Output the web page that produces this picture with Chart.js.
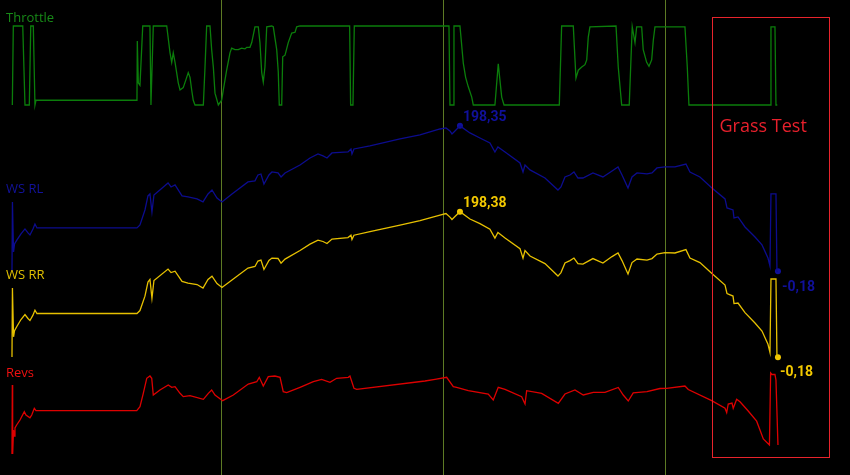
<!DOCTYPE html>
<html>
<head>
<meta charset="utf-8">
<title>Grass Test</title>
<script src="https://cdn.jsdelivr.net/npm/chart.js@4.4.0/dist/chart.umd.min.js"></script>
<style>
  html, body { margin: 0; padding: 0; background: #000; }
  #wrap { width: 850px; height: 475px; }
</style>
</head>
<body>
<div id="wrap"><canvas id="log" width="850" height="475"></canvas></div>
<script>
/* ---------- Data (time in s) ---------- */
const throttleTime = [1.11,1.20,2.05,2.25,2.64,2.77,3.00,3.15,3.24,12.34,12.37,12.46,12.61,12.86,13.51,13.60,13.81,15.02,15.32,15.47,15.61,15.77,16.06,16.22,16.51,16.82,16.96,17.12,17.27,17.41,17.57,18.32,18.47,18.62,18.92,19.07,19.22,19.37,19.67,19.97,20.12,20.42,20.72,20.87,21.17,21.47,21.77,22.07,22.23,22.52,22.68,22.97,23.27,23.42,23.58,23.72,23.87,24.03,24.48,24.62,24.93,25.07,25.16,25.38,25.47,25.68,25.97,26.28,26.58,26.73,27.03,31.50,31.59,31.80,31.92,40.45,40.54,40.84,40.90,41.44,41.74,41.95,42.19,42.50,42.64,44.59,44.89,45.20,45.41,50.39,50.60,51.65,51.89,52.10,52.41,52.70,52.86,53.00,53.15,55.50,55.70,56.01,56.69,56.82,56.96,57.21,57.36,57.81,57.95,58.26,58.47,58.71,58.86,59.01,61.71,61.92,62.07,69.43,69.46,69.82,69.91,70.03];
const throttle = [0,100,100,0,0,100,100,0,6,6,81,28,25,100,100,0,100,100,66,54,66,54,28,19,22,35,41,35,19,6,0,0,48,100,100,70,48,15,0,6,19,44,66,72,70,70,72,71,73,73,79,99,99,79,41,29,48,99,100,99,70,42,0,0,61,63,79,91,92,99,100,100,0,0,100,100,0,0,100,100,53,35,23,10,0,0,52,10,0,0,100,100,34,44,48,51,57,86,99,100,48,0,0,48,99,79,99,99,70,54,49,57,82,99,99,48,0,0,99,99,0,0];

const wheelTime = [1.08,1.12,1.22,1.31,1.53,1.89,2.25,2.52,2.70,2.97,3.15,3.33,12.34,12.61,13.06,13.33,13.51,13.69,13.87,15.14,15.41,15.77,16.40,16.94,17.75,18.29,18.74,19.10,19.55,20.00,20.90,22.34,22.97,23.24,23.51,23.78,24.23,24.50,25.05,25.32,25.68,27.03,27.93,28.65,29.10,29.46,29.91,31.35,31.62,31.71,31.89,33.33,36.04,37.84,39.64,40.18,40.54,40.72,40.99,41.44,42.34,43.24,44.14,44.59,44.86,45.50,46.85,47.12,47.30,47.75,49.10,50.27,50.54,50.90,51.35,51.71,52.07,52.52,53.42,54.32,55.14,55.68,56.04,56.58,56.94,57.39,58.29,58.74,59.19,59.91,60.81,61.80,62.16,63.06,64.14,65.32,65.50,66.04,66.13,66.49,67.12,68.02,68.65,69.19,69.37,69.46,69.91,70.00,70.09];
const wsRL = [0,94.5,26.2,37.1,42.6,50.8,57.6,52.2,49.4,57.6,64.4,59.0,59.0,63.1,83.5,102.7,105.4,80.8,104.0,120.4,114.9,117.7,102.7,101.3,98.6,94.5,105.4,110.8,99.9,94.5,105.4,121.8,123.2,131.3,132.7,119.0,131.3,135.4,134.1,128.6,134.1,145.0,154.5,160.0,157.3,154.5,161.4,162.7,166.8,160.0,166.8,170.9,180.5,185.9,194.1,195.5,191.4,187.3,191.4,198.35,188.7,181.8,175.0,162.7,169.5,162.7,147.7,135.4,145.0,138.2,127.2,110.8,114.9,128.6,131.3,135.4,127.2,127.2,134.1,128.6,136.8,142.3,131.3,113.6,128.6,134.1,132.7,134.1,140.9,142.3,142.3,146.3,135.4,128.6,113.6,98.6,86.3,83.5,72.6,74.0,60.3,46.7,35.8,18.0,7.1,105.4,105.4,-0.18,-0.18];
const wsRR = [0,94.2,27.5,36.0,42.0,51.2,57.9,52.6,49.8,57.1,64.0,59.4,59.4,63.4,83.1,102.3,105.9,80.2,104.4,120.1,115.3,117.2,103.1,101.0,98.9,94.1,105.8,110.4,100.3,94.9,105.0,121.4,123.6,131.0,132.2,119.5,131.7,135.0,134.5,128.2,133.7,145.4,154.1,159.6,157.7,154.9,161.0,163.1,166.4,160.4,166.3,171.2,180.2,186.2,193.8,195.9,191.0,187.7,191.8,198.38,188.4,182.1,174.6,162.3,169.9,162.4,148.0,135.0,145.3,137.9,127.5,110.5,115.2,128.3,131.6,135.1,127.5,126.9,134.4,128.3,137.1,142.0,131.6,113.3,128.9,133.8,132.4,134.4,140.6,142.6,142.0,146.6,135.1,128.9,113.9,98.3,86.6,83.2,72.9,73.7,60.6,46.4,35.5,17.4,6.2,106.5,106.5,-0.18,-0.18];

const revsTime = [1.08,1.11,1.14,1.22,1.29,1.35,1.50,1.80,2.19,2.34,2.70,2.86,3.09,3.24,12.32,12.61,12.91,13.22,13.51,13.67,13.81,14.41,15.16,15.47,15.77,16.22,16.51,17.12,18.32,18.77,19.07,19.37,20.06,21.02,22.37,23.13,23.36,23.72,24.17,24.77,25.23,25.52,25.83,27.03,28.23,28.98,29.73,30.33,31.38,31.53,31.89,32.14,38.29,39.19,40.24,40.84,41.14,42.19,43.99,44.44,44.89,45.50,47.00,47.30,47.45,48.80,50.30,50.90,51.80,52.55,53.45,54.50,55.70,56.15,56.60,57.05,58.29,59.46,60.06,61.71,62.01,64.12,65.32,65.47,65.61,65.95,66.06,66.37,66.67,67.41,68.17,68.41,68.77,69.32,69.43,69.55,69.82,69.91,70.09];
const revs = [125,8750,125,3125,2375,3375,3750,4375,5410,5000,4660,5000,5840,5540,5540,6040,7710,9590,9875,9590,7500,8125,8750,8460,8540,7710,7290,7410,6960,7710,8125,7500,6790,7500,8875,9160,9710,8625,9790,9875,9710,7910,7790,8460,9160,9460,9090,9590,9710,9875,8340,8210,9250,9460,9710,8540,8460,8040,7625,6875,8460,8210,7290,6375,8040,7710,6460,7625,8125,7500,7840,7840,8440,7500,6750,7775,7910,8310,8340,8625,8190,6790,5840,5310,6375,6500,5840,6960,6660,5500,4225,3340,2000,1250,10250,10060,10060,9375,1250];

/* marked values (max / last) */
const rlMarkTime = [41.44, 70.09];
const rlMarkValue = [198.35, -0.18];
const rrMarkTime = [41.44, 70.09];
const rrMarkValue = [198.38, -0.18];

/* grass test section */
const grassStart = 64.14;
const grassEnd = 74.68;

const timeMax = 76.58;
const gridStep = 20;

/* ---------- Helpers ---------- */
const zip = (xs, ys) => xs.map((x, i) => ({ x, y: ys[i] }));
const fmt = (v) => v.toFixed(2).replace('.', ',');

const GREEN = '#0b7d0b';
const BLUE = '#0c0c8e';
const YELLOW = '#e6c000';
const RED = '#dd0000';

/* ---------- Overlay plugin: channel names, value tags, section box ---------- */
const overlay = {
  id: 'overlay',
  afterDatasetsDraw(chart) {
    const { ctx, scales } = chart;
    const x = scales.x;
    ctx.save();

    // channel names
    ctx.font = '13px "Open Sans", sans-serif';
    ctx.textBaseline = 'middle';
    ctx.textAlign = 'left';
    [['Throttle', '#178a17', 18], ['WS RL', '#12129c', 189], ['WS RR', '#e0c000', 275], ['Revs', '#f01010', 373]]
      .forEach(([t, c, y]) => { ctx.fillStyle = c; ctx.fillText(t, 6, y); });

    // value tags next to marked points
    ctx.font = 'bold 14px Roboto, sans-serif';
    chart.data.datasets.forEach((ds, di) => {
      if (!ds.tagOffsets) return;
      const meta = chart.getDatasetMeta(di);
      meta.data.forEach((pt, i) => {
        ctx.fillStyle = ds.tagColor;
        ctx.fillText(fmt(ds.data[i].y), pt.x + ds.tagOffsets[i][0], pt.y + ds.tagOffsets[i][1]);
      });
    });

    // grass test box
    const x0 = Math.round(x.getPixelForValue(grassStart)) + 0.5;
    const x1 = Math.round(x.getPixelForValue(grassEnd)) + 0.5;
    ctx.strokeStyle = '#e8242c';
    ctx.lineWidth = 1;
    ctx.strokeRect(x0, 17.5, x1 - x0, 440);
    ctx.fillStyle = '#e8202c';
    ctx.font = '18px "Open Sans", sans-serif';
    ctx.textAlign = 'left';
    ctx.fillText('Grass Test', x0 + 7, 127);

    ctx.restore();
  },
};

const line = (label, xs, ys, axis, color) => ({
  label,
  data: zip(xs, ys),
  yAxisID: axis,
  borderColor: color,
  borderWidth: 1.3,
  pointRadius: 0,
  tension: 0,
  fill: false,
});

const marks = (xs, ys, axis, color, offsets) => ({
  data: zip(xs, ys),
  yAxisID: axis,
  showLine: false,
  pointRadius: 3,
  pointBackgroundColor: color,
  pointBorderWidth: 0,
  tagColor: color,
  tagOffsets: offsets,
});

new Chart(document.getElementById('log'), {
  type: 'line',
  data: {
    datasets: [
      line('Throttle', throttleTime, throttle, 'yThr', GREEN),
      line('WS RL', wheelTime, wsRL, 'yRL', BLUE),
      line('WS RR', wheelTime, wsRR, 'yRR', YELLOW),
      line('Revs', revsTime, revs, 'yRev', RED),
      marks(rlMarkTime, rlMarkValue, 'yRL', '#10109a', [[3, -8], [4, 16]]),
      marks(rrMarkTime, rrMarkValue, 'yRR', '#f2c800', [[3, -8], [2, 15]]),
    ],
  },
  options: {
    responsive: false,
    animation: false,
    layout: { padding: 0, autoPadding: false },
    plugins: { legend: { display: false }, tooltip: { enabled: false } },
    scales: {
      x: {
        type: 'linear',
        min: 0,
        max: timeMax,
        ticks: { display: false, stepSize: gridStep },
        border: { display: false },
        grid: {
          drawTicks: false,
          lineWidth: 1,
          color: (c) => (c.tick && c.tick.value > 0 && c.tick.value % gridStep === 0 ? '#5d7a24' : 'rgba(0,0,0,0)'),
        },
      },
      // each channel has its own band, set by the axis range
      yThr: { display: false, min: -468.4, max: 132.9 },
      yRL: { display: false, min: -278.3, max: 370.2 },
      yRR: { display: false, min: -161.1, max: 487.4 },
      yRev: { display: false, min: -2500, max: 56875 },
    },
  },
  plugins: [overlay],
});
</script>
</body>
</html>
